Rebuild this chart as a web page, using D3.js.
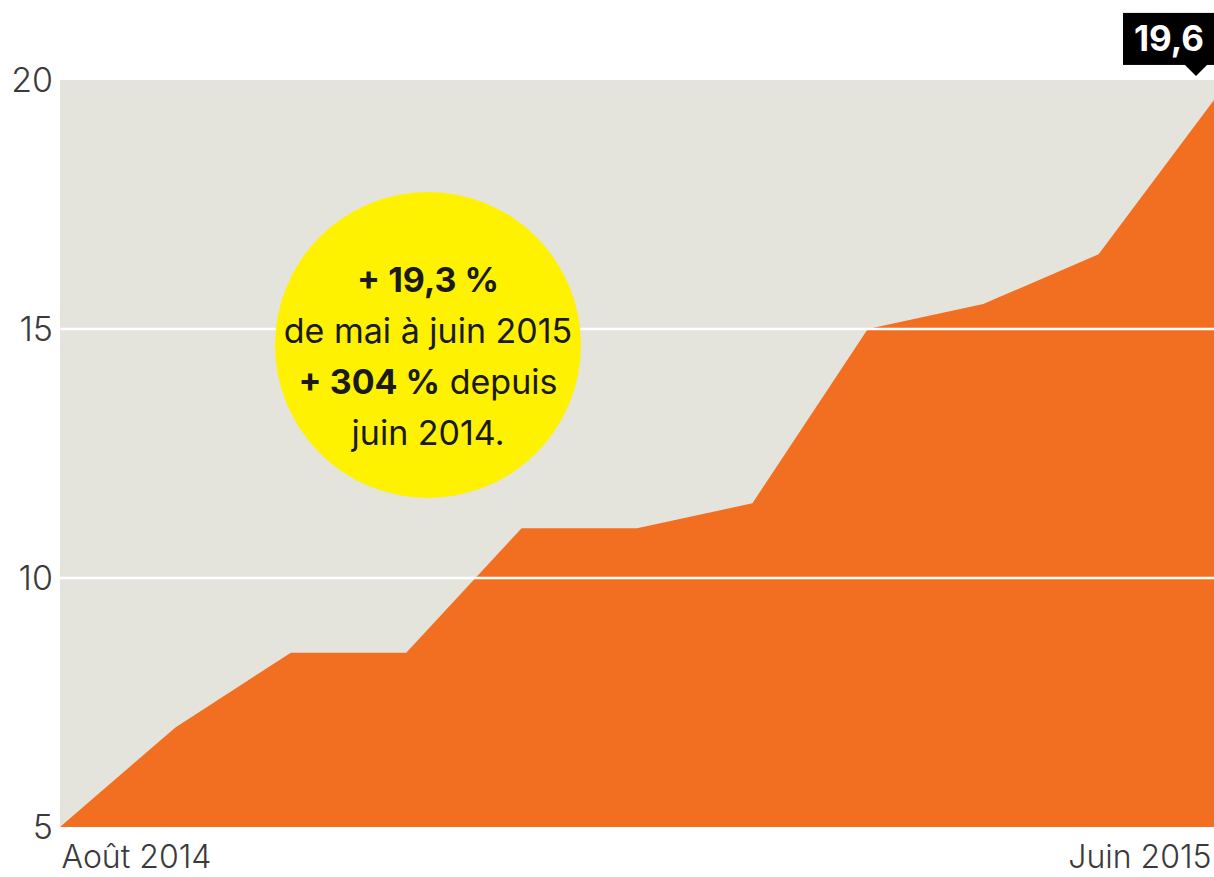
<!DOCTYPE html>
<html>
<head>
<meta charset="utf-8">
<script src="https://cdn.jsdelivr.net/npm/d3@7"></script>
<style>
  body { margin: 0; background: #fff; }
  svg { display: block; font-family: Inter, 'Open Sans', sans-serif; }
</style>
</head>
<body>
<script>
const months = ['Août 2014', 'Sept. 2014', 'Oct. 2014', 'Nov. 2014', 'Déc. 2014', 'Janv. 2015',
  'Févr. 2015', 'Mars 2015', 'Avr. 2015', 'Mai 2015', 'Juin 2015']
const values = [5, 7, 8.5, 8.5, 11, 11, 11.5, 15, 15.5, 16.5, 19.6]
const yTicks = [5, 10, 15, 20]
const xLabels = ['Août 2014', 'Juin 2015']
const bubbleLines = [
  [{ t: '+ 19,3 %', b: true }],
  [{ t: 'de mai à juin 2015', b: false }],
  [{ t: '+ 304 %', b: true }, { t: ' depuis', b: false }],
  [{ t: 'juin 2014.', b: false }]
]
const lastLabel = '19,6'

const width = 1214
const height = 877
const margin = { top: 80, right: 0, bottom: 50, left: 60 }

const svg = d3.select('body').append('svg')
  .attr('width', width)
  .attr('height', height)

const xScale = d3.scalePoint()
  .domain(months)
  .range([margin.left, width - margin.right])

const yScale = d3.scaleLinear()
  .domain([5, 20])
  .range([height - margin.bottom, margin.top])

// grey plot background
svg.append('rect')
  .attr('x', margin.left)
  .attr('y', yScale(20))
  .attr('width', width - margin.right - margin.left)
  .attr('height', yScale(5) - yScale(20))
  .attr('fill', '#e4e3dc')

const area = d3.area()
  .x((d, i) => xScale(months[i]))
  .y0(yScale(5))
  .y1(d => yScale(d))

svg.append('path')
  .datum(values)
  .attr('d', area)
  .attr('fill', '#f26f21')

// white grid lines over the area
svg.append('g')
  .selectAll('line')
  .data([10, 15])
  .join('line')
  .attr('x1', margin.left)
  .attr('x2', width)
  .attr('y1', d => yScale(d))
  .attr('y2', d => yScale(d))
  .attr('stroke', '#fff')
  .attr('stroke-width', 2.5)

// y axis
const yAxis = svg.append('g')
  .attr('transform', `translate(${margin.left - 7}, 0)`)
  .call(d3.axisLeft(yScale).tickValues(yTicks).tickSize(0).tickPadding(0))
yAxis.select('.domain').remove()
yAxis.selectAll('text')
  .attr('font-size', 34)
  .attr('font-weight', 300)
  .attr('font-family', 'Inter, sans-serif')
  .attr('fill', '#3a3a3a')
  .attr('dy', '0.35em')

// x axis, first and last month only
const xAxis = svg.append('g')
  .attr('transform', `translate(0, ${yScale(5)})`)
  .call(d3.axisBottom(xScale).tickValues(xLabels).tickSize(0).tickPadding(18))
xAxis.select('.domain').remove()
xAxis.selectAll('text')
  .attr('font-size', 32)
  .attr('font-weight', 300)
  .attr('font-family', 'Inter, sans-serif')
  .attr('fill', '#3a3a3a')
  .attr('dy', '0.71em')
  .attr('text-anchor', (d, i) => i === 0 ? 'start' : 'end')
  .attr('dx', (d, i) => i === 0 ? 1 : -3)

// yellow bubble
const bubble = svg.append('g').attr('transform', 'translate(428, 345)')
bubble.append('circle')
  .attr('r', 153)
  .attr('fill', '#fff200')

bubble.selectAll('text')
  .data(bubbleLines)
  .join('text')
  .attr('text-anchor', 'middle')
  .attr('y', (d, i) => -65 + i * 51)
  .attr('dy', '0.35em')
  .attr('font-size', 34)
  .attr('fill', '#1a1a1a')
  .selectAll('tspan')
  .data(d => d)
  .join('tspan')
  .attr('font-weight', d => d.b ? 700 : 400)
  .text(d => d.t)

// last value label
const lx = xScale(months[months.length - 1])
const ly = yScale(values[values.length - 1])
const tag = svg.append('g')
tag.append('rect')
  .attr('x', lx - 91)
  .attr('y', ly - 87)
  .attr('width', 91)
  .attr('height', 52)
  .attr('fill', '#000')
tag.append('path')
  .attr('d', `M${lx - 30},${ly - 36} L${lx - 18},${ly - 24} L${lx - 6},${ly - 36} Z`)
  .attr('fill', '#000')
tag.append('text')
  .attr('x', lx - 45)
  .attr('y', ly - 61)
  .attr('dy', '0.35em')
  .attr('text-anchor', 'middle')
  .attr('font-size', 35)
  .attr('font-weight', 700)
  .attr('fill', '#fff')
  .text(lastLabel)
</script>
</body>
</html>
